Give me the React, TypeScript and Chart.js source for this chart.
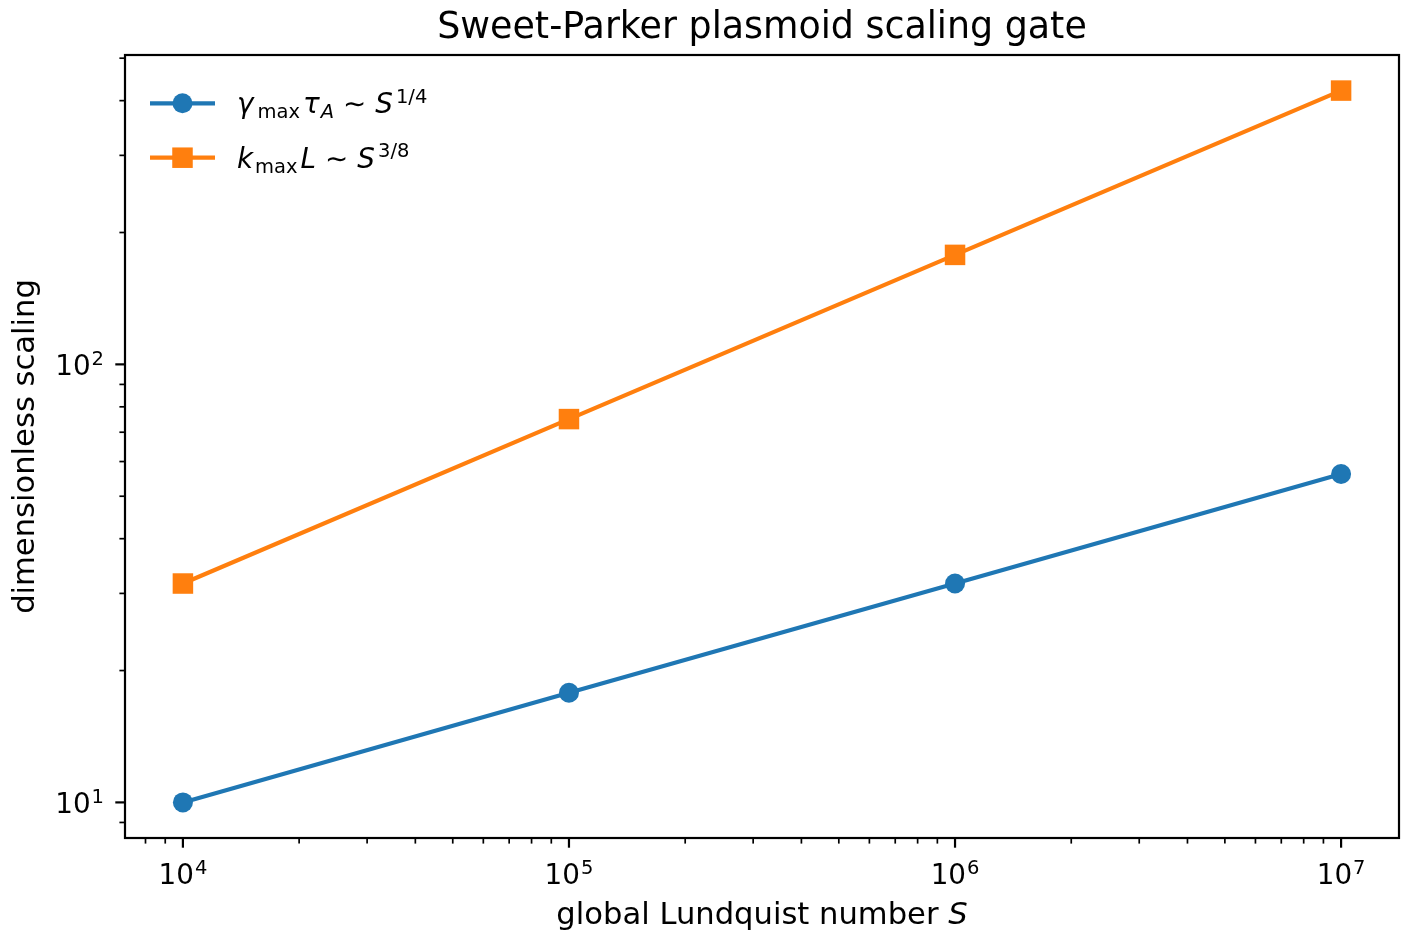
import React, { useEffect, useRef } from "react";
import { Chart, registerables } from "chart.js";

Chart.register(...registerables);

// ---------- data ----------
const lundquist = [1e4, 1e5, 1e6, 1e7];
const growthRate = [10.0, 17.8, 31.6, 56.2];
const waveNumber = [31.6, 75.0, 177.8, 421.7];
const xMajorExponents = [4, 5, 6, 7];
const yMajorExponents = [1, 2];
const titleText = "Sweet-Parker plasmoid scaling gate";
const xLabelText = "global Lundquist number ";
const xLabelVar = "S";
const yLabelText = "dimensionless scaling";

const BLUE = "#1f77b4";
const ORANGE = "#ff7f0e";
const FONT = '"DejaVu Sans", sans-serif';

type Run = { t: string; size: number; italic?: boolean; dy?: number; gap?: number };

const legendRows: { color: string; marker: "circle" | "rect"; runs: Run[] }[] = [
  {
    color: BLUE,
    marker: "circle",
    runs: [
      { t: "γ", size: 27.8, italic: true },
      { t: "max", size: 19.5, dy: 5, gap: 4 },
      { t: "τ", size: 27.8, italic: true, gap: 3 },
      { t: "A", size: 19.5, italic: true, dy: 5, gap: 1 },
      { t: "∼", size: 27.8, gap: 9 },
      { t: "S", size: 27.8, italic: true, gap: 9 },
      { t: "1/4", size: 19.5, dy: -10.5, gap: 3 },
    ],
  },
  {
    color: ORANGE,
    marker: "rect",
    runs: [
      { t: "k", size: 27.8, italic: true },
      { t: "max", size: 19.5, dy: 5, gap: 2 },
      { t: "L", size: 27.8, italic: true, gap: 3 },
      { t: "∼", size: 27.8, gap: 9 },
      { t: "S", size: 27.8, italic: true, gap: 9 },
      { t: "3/8", size: 19.5, dy: -10.5, gap: 3 },
    ],
  },
];

function fontOf(r: Run) {
  return `${r.italic ? "italic " : ""}${r.size}px ${FONT}`;
}

function runsWidth(ctx: CanvasRenderingContext2D, runs: Run[]) {
  let w = 0;
  for (const r of runs) {
    ctx.font = fontOf(r);
    w += (r.gap || 0) + ctx.measureText(r.t).width;
  }
  return w;
}

function drawRuns(ctx: CanvasRenderingContext2D, runs: Run[], x: number, baseline: number) {
  let cx = x;
  ctx.textAlign = "left";
  ctx.textBaseline = "alphabetic";
  for (const r of runs) {
    cx += r.gap || 0;
    ctx.font = fontOf(r);
    ctx.fillText(r.t, cx, baseline + (r.dy || 0));
    cx += ctx.measureText(r.t).width;
  }
}

function powerRuns(exp: number): Run[] {
  return [
    { t: "10", size: 27.8 },
    { t: String(exp), size: 19.5, dy: -10, gap: 1 },
  ];
}

const decorPlugin = {
  id: "mplDecor",
  afterDatasetsDraw(chart: any) {
    const ctx: CanvasRenderingContext2D = chart.ctx;
    const { left, right, top, bottom } = chart.chartArea;
    const xs = chart.scales.x;
    const ys = chart.scales.y;
    ctx.save();
    ctx.strokeStyle = "#000";
    ctx.fillStyle = "#000";

    // frame
    ctx.lineWidth = 2.2;
    ctx.strokeRect(left, top, right - left, bottom - top);

    // x ticks
    for (let k = 3; k <= 7; k++) {
      for (let m = 1; m <= 9; m++) {
        const v = m * Math.pow(10, k);
        if (v < xs.min || v > xs.max) continue;
        const px = xs.getPixelForValue(v);
        const major = m === 1;
        ctx.lineWidth = major ? 2.2 : 1.7;
        ctx.beginPath();
        ctx.moveTo(px, bottom);
        ctx.lineTo(px, bottom + (major ? 9.7 : 5.6));
        ctx.stroke();
      }
    }
    // y ticks
    for (let k = 0; k <= 2; k++) {
      for (let m = 1; m <= 9; m++) {
        const v = m * Math.pow(10, k);
        if (v < ys.min || v > ys.max) continue;
        const py = ys.getPixelForValue(v);
        const major = m === 1;
        ctx.lineWidth = major ? 2.2 : 1.7;
        ctx.beginPath();
        ctx.moveTo(left, py);
        ctx.lineTo(left - (major ? 9.7 : 5.6), py);
        ctx.stroke();
      }
    }

    // x tick labels
    for (const e of xMajorExponents) {
      const px = xs.getPixelForValue(Math.pow(10, e));
      const runs = powerRuns(e);
      const w = runsWidth(ctx, runs);
      drawRuns(ctx, runs, px - w / 2, bottom + 45.5);
    }
    // y tick labels
    for (const e of yMajorExponents) {
      const py = ys.getPixelForValue(Math.pow(10, e));
      const runs = powerRuns(e);
      const w = runsWidth(ctx, runs);
      drawRuns(ctx, runs, left - 21 - w, py + 11);
    }

    // title
    ctx.font = `36.4px ${FONT}`;
    ctx.textAlign = "center";
    ctx.textBaseline = "alphabetic";
    ctx.fillText(titleText, (left + right) / 2, top - 16.7);

    // x label
    const xl: Run[] = [
      { t: xLabelText, size: 30.6 },
      { t: xLabelVar, size: 30.6, italic: true },
    ];
    const xlw = runsWidth(ctx, xl);
    drawRuns(ctx, xl, (left + right) / 2 - xlw / 2, 924);

    // y label
    ctx.save();
    ctx.translate(33.5, (top + bottom) / 2);
    ctx.rotate(-Math.PI / 2);
    ctx.font = `30.6px ${FONT}`;
    ctx.textAlign = "center";
    ctx.textBaseline = "alphabetic";
    ctx.fillText(yLabelText, 0, 0);
    ctx.restore();

    // legend
    const rowY = [103.3, 157.7];
    legendRows.forEach((row, i) => {
      const y = rowY[i];
      ctx.strokeStyle = row.color;
      ctx.fillStyle = row.color;
      ctx.lineWidth = 4.2;
      ctx.lineCap = "butt";
      ctx.beginPath();
      ctx.moveTo(150, y);
      ctx.lineTo(215, y);
      ctx.stroke();
      if (row.marker === "circle") {
        ctx.beginPath();
        ctx.arc(182.5, y, 10, 0, Math.PI * 2);
        ctx.fill();
      } else {
        ctx.fillRect(182.5 - 10.25, y - 10.25, 20.5, 20.5);
      }
      ctx.fillStyle = "#000";
      drawRuns(ctx, row.runs, 237, y + 10);
    });

    ctx.restore();
  },
};

export default function App() {
  const ref = useRef<HTMLCanvasElement | null>(null);

  useEffect(() => {
    if (!ref.current) return;
    const chart = new Chart(ref.current, {
      type: "line",
      data: {
        datasets: [
          {
            label: "gamma_max tau_A ~ S^{1/4}",
            data: lundquist.map((x, i) => ({ x, y: growthRate[i] })),
            borderColor: BLUE,
            backgroundColor: BLUE,
            borderWidth: 4.2,
            pointStyle: "circle",
            pointRadius: 10,
            pointBorderWidth: 0,
            pointBackgroundColor: BLUE,
            tension: 0,
          },
          {
            label: "k_max L ~ S^{3/8}",
            data: lundquist.map((x, i) => ({ x, y: waveNumber[i] })),
            borderColor: ORANGE,
            backgroundColor: ORANGE,
            borderWidth: 4.2,
            pointStyle: "rect",
            pointRadius: 14.5,
            pointBorderWidth: 0,
            pointBackgroundColor: ORANGE,
            tension: 0,
          },
        ],
      },
      options: {
        animation: false,
        responsive: false,
        events: [],
        layout: { autoPadding: false, padding: { left: 125, right: 9, top: 55, bottom: 108 } },
        scales: {
          x: {
            type: "logarithmic",
            display: false,
            min: Math.pow(10, 3.85),
            max: Math.pow(10, 7.15),
            ticks: { display: false },
            grid: { display: false },
          },
          y: {
            type: "logarithmic",
            display: false,
            min: Math.pow(10, 0.91875),
            max: Math.pow(10, 2.70625),
            ticks: { display: false },
            grid: { display: false },
          },
        },
        plugins: {
          legend: { display: false },
          title: { display: false },
          tooltip: { enabled: false },
        },
      },
      plugins: [decorPlugin],
    });
    return () => chart.destroy();
  }, []);

  return (
    <div style={{ position: "absolute", left: 0, top: 0, width: 1408, height: 946, background: "#fff" }}>
      <canvas ref={ref} width={1408} height={946} style={{ display: "block", width: 1408, height: 946 }} />
    </div>
  );
}
